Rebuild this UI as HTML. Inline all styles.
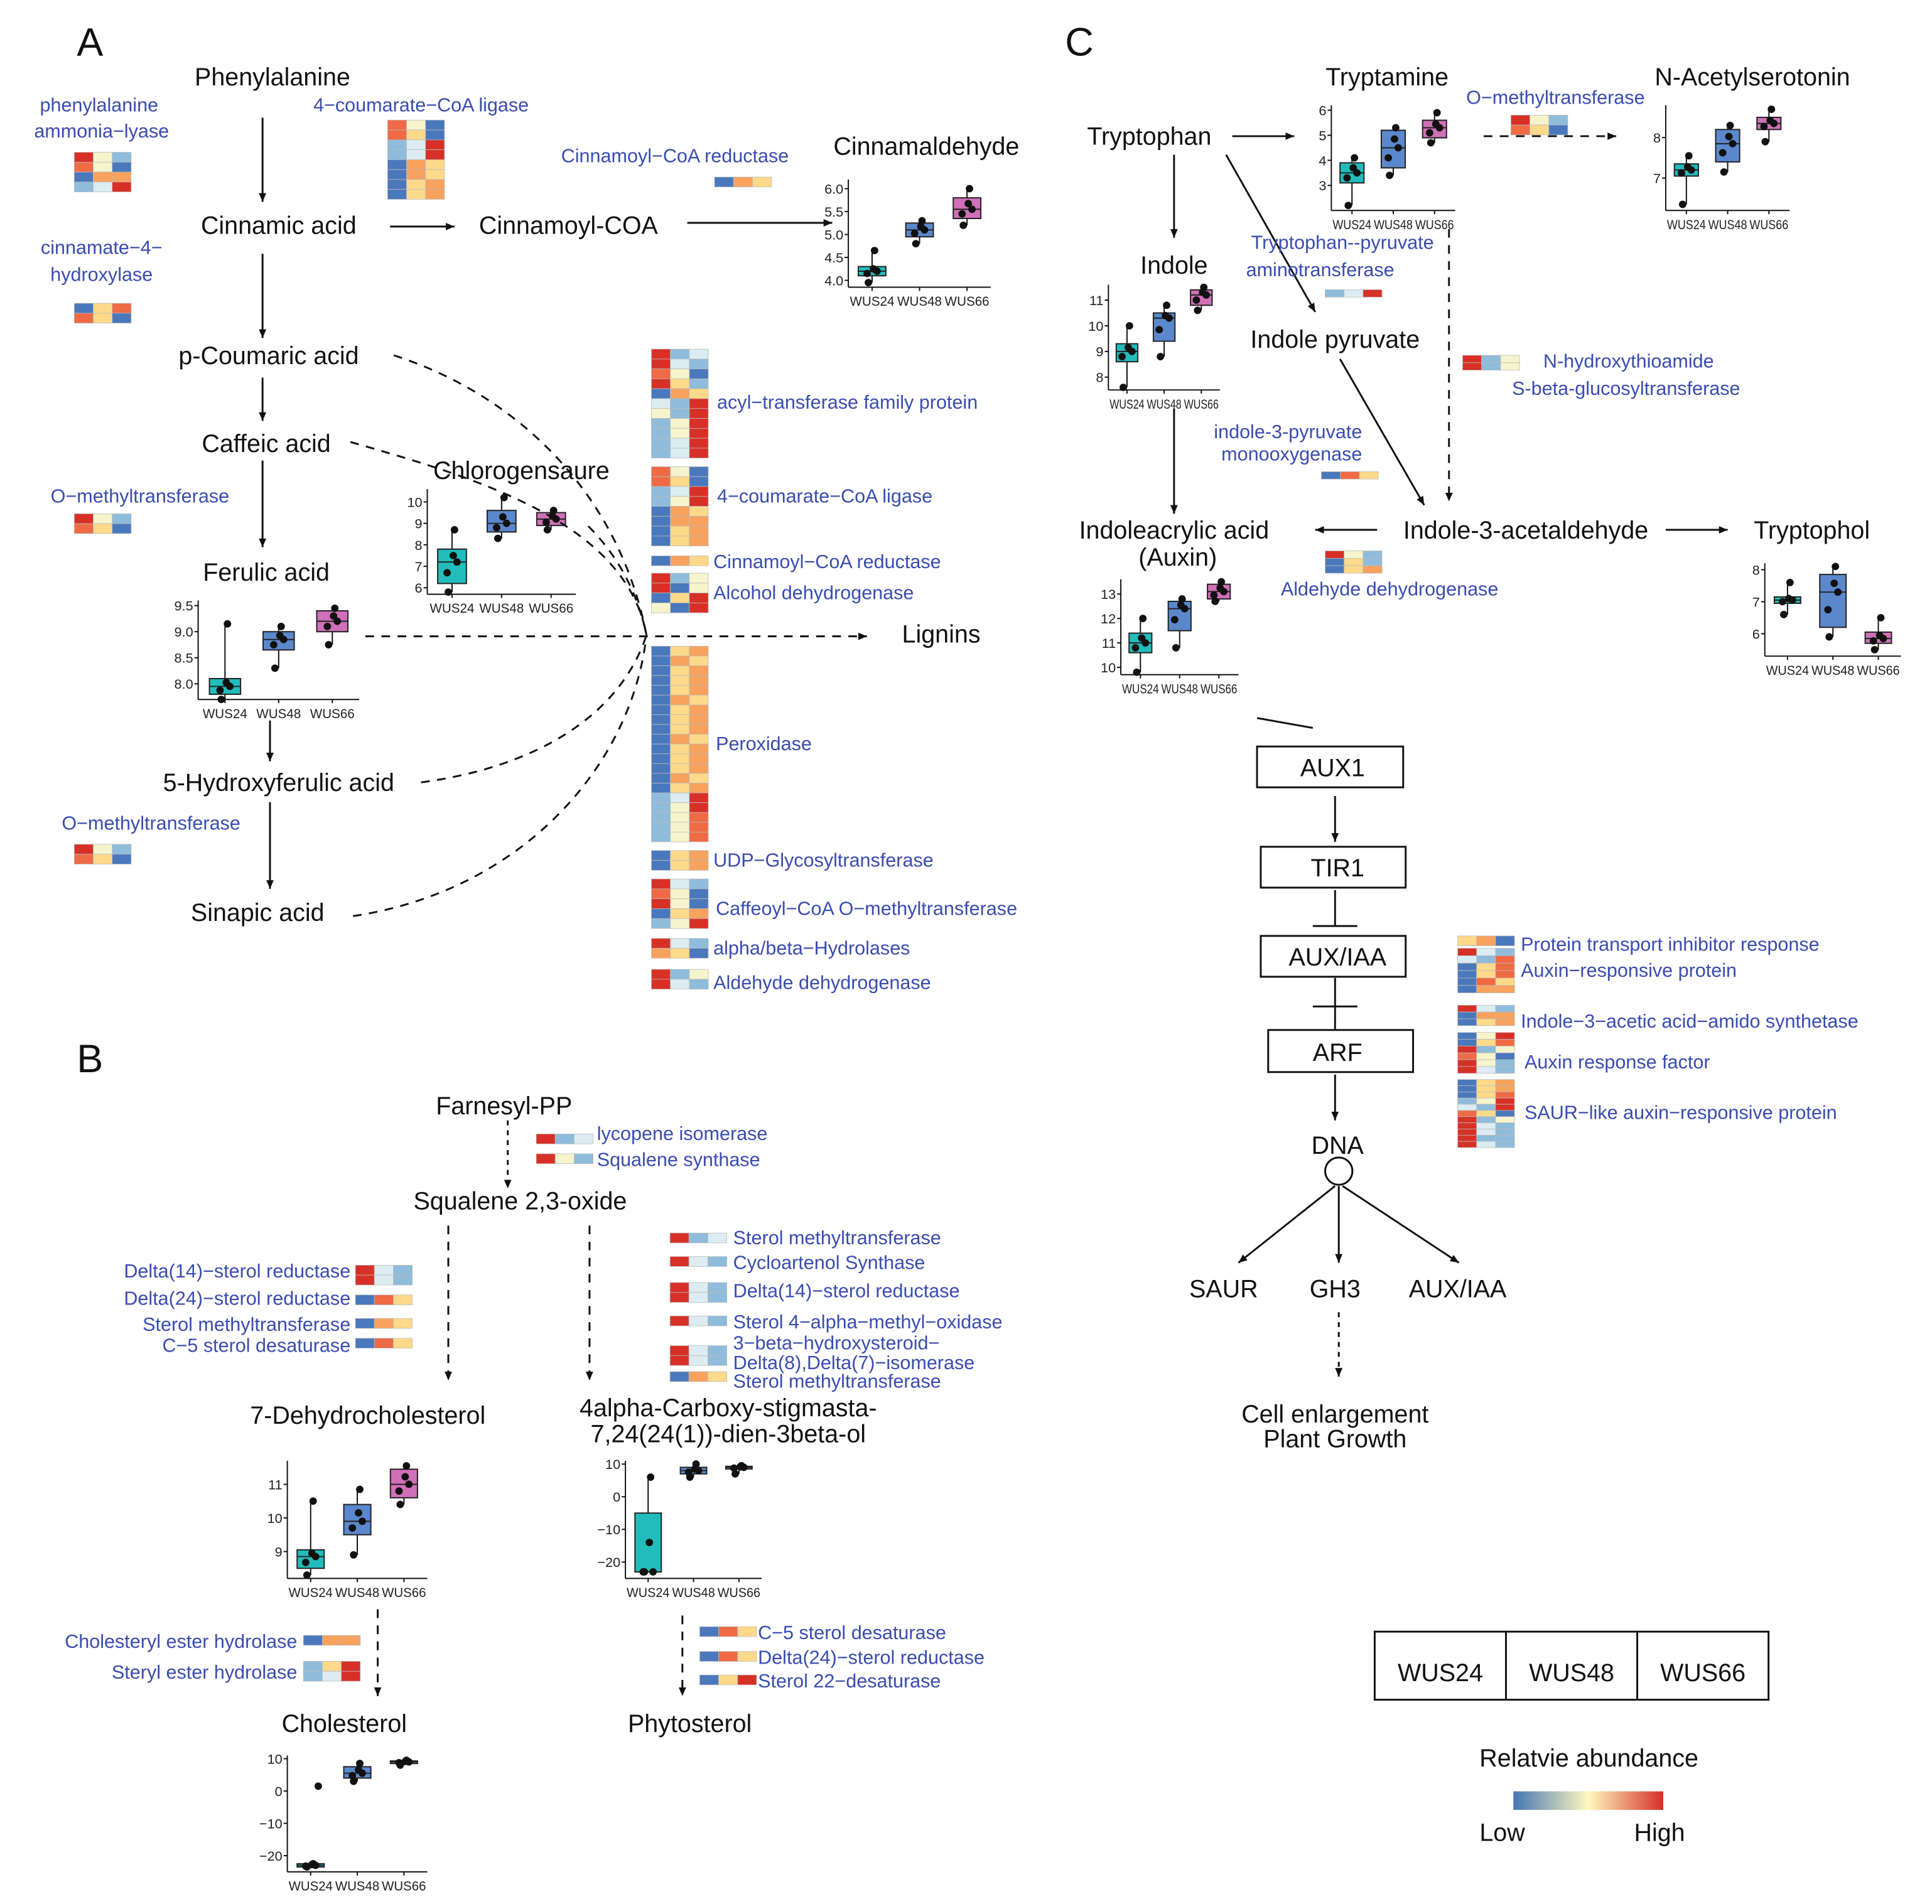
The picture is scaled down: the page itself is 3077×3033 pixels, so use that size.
<!DOCTYPE html>
<html><head><meta charset="utf-8"><style>
html,body{margin:0;padding:0;background:#fff}
svg{display:block}
text{font-family:"Liberation Sans",sans-serif}
.m{font-size:20px;fill:#111}
.e{font-size:15.5px;fill:#3a4cb0}
.big{font-size:32px;fill:#111}
</style></head><body>
<svg id="s" xmlns="http://www.w3.org/2000/svg" width="3077" height="3033" viewBox="0 0 1560 1538" preserveAspectRatio="none">
<defs>
<marker id="ar" markerWidth="8" markerHeight="8" refX="7" refY="4" orient="auto" markerUnits="userSpaceOnUse"><path d="M0,1 L7,4 L0,7 z" fill="#111"/></marker>
<linearGradient id="grad" x1="0" x2="1"><stop offset="0" stop-color="#4575b4"/><stop offset="0.5" stop-color="#fff8c0"/><stop offset="1" stop-color="#d73027"/></linearGradient>
</defs>
<g id="hm"></g><g id="bp"></g>
<g stroke="#111" stroke-width="1.5" fill="none">
<line x1="212" y1="95" x2="212" y2="163" marker-end="url(#ar)"/>
<line x1="315" y1="183" x2="367" y2="183" marker-end="url(#ar)"/>
<line x1="555" y1="180" x2="672" y2="180" marker-end="url(#ar)"/>
<line x1="212" y1="205" x2="212" y2="273" marker-end="url(#ar)"/>
<line x1="212" y1="305" x2="212" y2="340" marker-end="url(#ar)"/>
<line x1="212" y1="372" x2="212" y2="442" marker-end="url(#ar)"/>
<line x1="218" y1="582" x2="218" y2="615" marker-end="url(#ar)"/>
<line x1="218" y1="648" x2="218" y2="718" marker-end="url(#ar)"/>
<g stroke-dasharray="7,6">
<path d="M318,287 C420,320 500,400 522,513"/>
<path d="M283,357 C380,385 505,420 522,513"/>
<path d="M475,425 C500,450 515,480 522,513"/>
<line x1="295" y1="514" x2="700" y2="514" marker-end="url(#ar)"/>
<path d="M340,632 C430,620 500,580 522,513"/>
<path d="M285,740 C420,720 510,620 522,513"/>
<line x1="410" y1="905" x2="410" y2="960" stroke-dasharray="4,4" marker-end="url(#ar)"/>
<line x1="362" y1="990" x2="362" y2="1115" marker-end="url(#ar)"/>
<line x1="476" y1="990" x2="476" y2="1115" marker-end="url(#ar)"/>
<line x1="305" y1="1300" x2="305" y2="1370" marker-end="url(#ar)"/>
<line x1="551" y1="1305" x2="551" y2="1370" marker-end="url(#ar)"/>
<line x1="1198" y1="110" x2="1305" y2="110" marker-end="url(#ar)"/>
<line x1="1170" y1="185" x2="1170" y2="405" marker-end="url(#ar)"/>
<line x1="1081" y1="1060" x2="1081" y2="1112" stroke-dasharray="4,4" marker-end="url(#ar)"/>
</g>
<line x1="995" y1="110" x2="1045" y2="110" marker-end="url(#ar)"/>
<line x1="948" y1="125" x2="948" y2="192" marker-end="url(#ar)"/>
<line x1="990" y1="125" x2="1062" y2="252" marker-end="url(#ar)"/>
<line x1="1082" y1="290" x2="1150" y2="408" marker-end="url(#ar)"/>
<line x1="948" y1="330" x2="948" y2="415" marker-end="url(#ar)"/>
<line x1="1112" y1="428" x2="1062" y2="428" marker-end="url(#ar)"/>
<line x1="1345" y1="428" x2="1395" y2="428" marker-end="url(#ar)"/>
<line x1="1015" y1="580" x2="1060" y2="588"/>
<rect x="1015" y="603" width="118" height="33"/>
<rect x="1018" y="684" width="117" height="33"/>
<rect x="1018" y="756" width="117" height="33"/>
<rect x="1024" y="832" width="117" height="34"/>
<line x1="1078" y1="643" x2="1078" y2="680" marker-end="url(#ar)"/>
<line x1="1078" y1="719" x2="1078" y2="748"/><line x1="1060" y1="748" x2="1096" y2="748"/>
<line x1="1078" y1="790" x2="1078" y2="832"/><line x1="1060" y1="813" x2="1096" y2="813"/>
<line x1="1078" y1="868" x2="1078" y2="905" marker-end="url(#ar)"/>
<circle cx="1081" cy="946" r="11"/>
<line x1="1078" y1="958" x2="1000" y2="1020" marker-end="url(#ar)"/>
<line x1="1081" y1="958" x2="1081" y2="1020" marker-end="url(#ar)"/>
<line x1="1084" y1="958" x2="1178" y2="1020" marker-end="url(#ar)"/>
<rect x="1110" y="1318" width="318" height="55"/>
<line x1="1216" y1="1318" x2="1216" y2="1373"/><line x1="1322" y1="1318" x2="1322" y2="1373"/>
</g>
<rect x="1222" y="1447" width="121" height="15" fill="url(#grad)"/>

<text class="big" x="62" y="45">A</text>
<text class="big" x="62" y="866">B</text>
<text class="big" x="860" y="45">C</text>
<g text-anchor="middle">
<text class="m" x="220" y="69">Phenylalanine</text>
<text class="m" x="225" y="189">Cinnamic acid</text>
<text class="m" x="459" y="189">Cinnamoyl-COA</text>
<text class="m" x="748" y="125">Cinnamaldehyde</text>
<text class="m" x="217" y="294">p-Coumaric acid</text>
<text class="m" x="215" y="365">Caffeic acid</text>
<text class="m" x="421" y="387">Chlorogensaure</text>
<text class="m" x="215" y="469">Ferulic acid</text>
<text class="m" x="760" y="519">Lignins</text>
<text class="m" x="225" y="639">5-Hydroxyferulic acid</text>
<text class="m" x="208" y="744">Sinapic acid</text>
<text class="m" x="407" y="900">Farnesyl-PP</text>
<text class="m" x="420" y="977">Squalene 2,3-oxide</text>
<text class="m" x="297" y="1150">7-Dehydrocholesterol</text>
<text class="m" x="588" y="1144">4alpha-Carboxy-stigmasta-</text>
<text class="m" x="588" y="1165">7,24(24(1))-dien-3beta-ol</text>
<text class="m" x="278" y="1399">Cholesterol</text>
<text class="m" x="557" y="1399">Phytosterol</text>
<text class="m" x="928" y="117">Tryptophan</text>
<text class="m" x="1120" y="69">Tryptamine</text>
<text class="m" x="1415" y="69">N-Acetylserotonin</text>
<text class="m" x="948" y="221">Indole</text>
<text class="m" x="1078" y="281">Indole pyruvate</text>
<text class="m" x="948" y="435">Indoleacrylic acid</text>
<text class="m" x="951" y="457">(Auxin)</text>
<text class="m" x="1232" y="435">Indole-3-acetaldehyde</text>
<text class="m" x="1463" y="435">Tryptophol</text>
<text class="m" x="1076" y="627">AUX1</text>
<text class="m" x="1080" y="708">TIR1</text>
<text class="m" x="1080" y="780">AUX/IAA</text>
<text class="m" x="1080" y="857">ARF</text>
<text class="m" x="1080" y="932">DNA</text>
<text class="m" x="988" y="1048">SAUR</text>
<text class="m" x="1078" y="1048">GH3</text>
<text class="m" x="1177" y="1048">AUX/IAA</text>
<text class="m" x="1078" y="1149">Cell enlargement</text>
<text class="m" x="1078" y="1169">Plant Growth</text>
<text class="m" x="1163" y="1358">WUS24</text>
<text class="m" x="1269" y="1358">WUS48</text>
<text class="m" x="1375" y="1358">WUS66</text>
<text class="m" x="1283" y="1427">Relatvie abundance</text>
<text class="m" x="1213" y="1487">Low</text>
<text class="m" x="1340" y="1487">High</text>
</g>
<g>
<text class="e" x="80" y="90" text-anchor="middle">phenylalanine</text>
<text class="e" x="82" y="111" text-anchor="middle">ammonia−lyase</text>
<text class="e" x="340" y="90" text-anchor="middle">4−coumarate−CoA ligase</text>
<text class="e" x="545" y="131" text-anchor="middle">Cinnamoyl−CoA reductase</text>
<text class="e" x="82" y="205" text-anchor="middle">cinnamate−4−</text>
<text class="e" x="82" y="227" text-anchor="middle">hydroxylase</text>
<text class="e" x="113" y="406" text-anchor="middle">O−methyltransferase</text>
<text class="e" x="122" y="670" text-anchor="middle">O−methyltransferase</text>
<text class="e" x="579" y="330">acyl−transferase family protein</text>
<text class="e" x="579" y="406">4−coumarate−CoA ligase</text>
<text class="e" x="576" y="459">Cinnamoyl−CoA reductase</text>
<text class="e" x="576" y="484">Alcohol dehydrogenase</text>
<text class="e" x="578" y="606">Peroxidase</text>
<text class="e" x="576" y="700">UDP−Glycosyltransferase</text>
<text class="e" x="578" y="739">Caffeoyl−CoA O−methyltransferase</text>
<text class="e" x="576" y="771">alpha/beta−Hydrolases</text>
<text class="e" x="576" y="799">Aldehyde dehydrogenase</text>
<text class="e" x="482" y="921">lycopene isomerase</text>
<text class="e" x="482" y="942">Squalene synthase</text>
<g text-anchor="end">
<text class="e" x="283" y="1032">Delta(14)−sterol reductase</text>
<text class="e" x="283" y="1054">Delta(24)−sterol reductase</text>
<text class="e" x="283" y="1075">Sterol methyltransferase</text>
<text class="e" x="283" y="1092">C−5 sterol desaturase</text>
<text class="e" x="240" y="1331">Cholesteryl ester hydrolase</text>
<text class="e" x="240" y="1356">Steryl ester hydrolase</text>
</g>
<text class="e" x="592" y="1005">Sterol methyltransferase</text>
<text class="e" x="592" y="1025">Cycloartenol Synthase</text>
<text class="e" x="592" y="1048">Delta(14)−sterol reductase</text>
<text class="e" x="592" y="1073">Sterol 4−alpha−methyl−oxidase</text>
<text class="e" x="592" y="1090">3−beta−hydroxysteroid−</text>
<text class="e" x="592" y="1106">Delta(8),Delta(7)−isomerase</text>
<text class="e" x="592" y="1121">Sterol methyltransferase</text>
<text class="e" x="612" y="1324">C−5 sterol desaturase</text>
<text class="e" x="612" y="1344">Delta(24)−sterol reductase</text>
<text class="e" x="612" y="1363">Sterol 22−desaturase</text>
<text class="e" x="1256" y="84" text-anchor="middle">O−methyltransferase</text>
<text class="e" x="1084" y="201" text-anchor="middle">Tryptophan--pyruvate</text>
<text class="e" x="1066" y="223" text-anchor="middle">aminotransferase</text>
<text class="e" x="1315" y="297" text-anchor="middle">N-hydroxythioamide</text>
<text class="e" x="1313" y="319" text-anchor="middle">S-beta-glucosyltransferase</text>
<text class="e" x="1040" y="354" text-anchor="middle">indole-3-pyruvate</text>
<text class="e" x="1043" y="372" text-anchor="middle">monooxygenase</text>
<text class="e" x="1122" y="481" text-anchor="middle">Aldehyde dehydrogenase</text>
<text class="e" x="1228" y="768">Protein transport inhibitor response</text>
<text class="e" x="1228" y="789">Auxin−responsive protein</text>
<text class="e" x="1228" y="830">Indole−3−acetic acid−amido synthetase</text>
<text class="e" x="1231" y="863">Auxin response factor</text>
<text class="e" x="1231" y="904">SAUR−like auxin−responsive protein</text>
</g>
</svg>
<script>
var C={R:"#d73027",r:"#ef6a45",o:"#f8a25e",y:"#fdd98a",w:"#f6f4cc",L:"#dcecf2",l:"#8fbcdb",b:"#4a78bc"};
var NS="http://www.w3.org/2000/svg";
function el(t,a,p){var e=document.createElementNS(NS,t);for(var k in a)e.setAttribute(k,a[k]);p.appendChild(e);return e;}
var H=document.getElementById("hm");
function hm(x,y,rows,rh){rh=rh||8;rows.split(",").forEach(function(r,i){for(var j=0;j<3;j++)el("rect",{x:x+j*15.3,y:y+i*rh,width:15.3,height:rh,fill:C[r[j]]||"#ccc",stroke:"#bbb","stroke-width":0.4},H);});}
hm(60,123,"Rwl,rwb,boo,lLR");
hm(313,97,"rwb,ryb,lLR,lLR,boy,boy,byo,byo");
hm(577,143,"boy");
hm(60,245,"byr,ryb");
hm(60,415,"Rwl,ryb");
hm(60,682,"Rwl,ryb");
hm(526,282,"RlL,RLl,rwb,Ryl,boy,LlR,wlR,lwR,lwR,lLR,lLR");
hm(526,377,"rwb,ryb,lLR,lwR,boy,boo,byo,byo");
hm(526,449,"boy");
hm(526,463,"Rlw,Rbw,byR,wbR");
var per=[];for(var i=0;i<15;i++)per.push(i%4==1?"boy":"byo");per.push("lLR","lwR","lwr","lwr","lwr");hm(526,522,per.join(","),7.9);
hm(526,687,"byo,byo");
hm(526,710,"RLl,rwb,Rwb,byo,lwR");
hm(526,758,"RLl,oyb");
hm(526,783,"Rlw,RLl");
hm(433,916,"RlL");hm(433,932,"Rwl");
hm(287,1022,"RLl,RLl");hm(287,1046,"bry");hm(287,1065,"boy");hm(287,1081,"bry");
hm(541,996,"RlL");hm(541,1015,"RLl");hm(541,1036,"RLl,RLl");hm(541,1063,"RLl");hm(541,1087,"RLl,RLl");hm(541,1108,"boy");
hm(245,1321,"boo");hm(245,1342,"lyR,lLR");
hm(565,1314,"bry");hm(565,1334,"bry");hm(565,1353,"byR");
hm(1220,93,"Rwl,ryb");
hm(1070,234,"lLR",6);
hm(1181,287,"Rlw,Rlw",6);
hm(1067,381,"bry",6);
hm(1070,445,"Rwl,byl,byo",6);
hm(1177,756,"yob");
hm(1177,766,"RLl,Llr,byr,byr,bry,boo",6);
hm(1177,812,"RLl,boo,byo",5.5);
hm(1177,834,"bwR,byr,Rlw,rwb,Rwl,RLl",5.5);
hm(1177,872,"byo,byo,byr,lwR,LlR,ryb,Rlw,RLl,RLl,Rll,RLl",5);

var B=document.getElementById("bp");
var cols=["#22bcbc","#5b88cc","#d070b8"];
function bp(x0,y0,w,h,mn,mx,ticks,labs,g){
 var sy=function(v){return y0+h-(v-mn)/(mx-mn)*h;};
 el("line",{x1:x0,y1:y0,x2:x0,y2:y0+h,stroke:"#111","stroke-width":1},B);
 el("line",{x1:x0,y1:y0+h,x2:x0+w,y2:y0+h,stroke:"#111","stroke-width":1},B);
 ticks.forEach(function(t,i){var y=sy(t);el("line",{x1:x0-3,y1:y,x2:x0,y2:y,stroke:"#111"},B);var tx=el("text",{x:x0-4,y:y+4,"text-anchor":"end","font-size":11,fill:"#222"},B);tx.textContent=labs[i];});
 var names=["WUS24","WUS48","WUS66"];
 g.forEach(function(d,i){var cx=x0+(i+0.5)*w/3,bw=w/3*0.58;
  el("line",{x1:cx,y1:sy(d[4]),x2:cx,y2:sy(d[3]),stroke:"#111"},B);
  el("rect",{x:cx-bw/2,y:sy(d[2]),width:bw,height:Math.max(2,sy(d[0])-sy(d[2])),fill:cols[i],stroke:"#222","stroke-width":1},B);
  el("line",{x1:cx-bw/2,y1:sy(d[1]),x2:cx+bw/2,y2:sy(d[1]),stroke:"#222"},B);
  var pts=[d[3],d[4],d[1],(d[0]+d[1])/2,(d[1]+d[2])/2];pts.forEach(function(p,k){el("circle",{cx:cx+[-3,2,4,-4,1][k],cy:sy(p),r:3,fill:"#111"},B);});
  el("line",{x1:cx,y1:y0+h,x2:cx,y2:y0+h+3,stroke:"#111"},B);
  var t=el("text",{x:cx,y:y0+h+15,"text-anchor":"middle","font-size":11,"textLength":Math.min(36,w/3-2),"lengthAdjust":"spacingAndGlyphs",fill:"#222"},B);t.textContent=names[i];});
}
bp(685,145,115,87,3.85,6.2,[4,4.5,5,5.5,6],["4.0","4.5","5.0","5.5","6.0"],[[4.1,4.2,4.3,3.95,4.65],[4.95,5.1,5.25,4.8,5.3],[5.35,5.55,5.8,5.2,6.0]]);
bp(345,395,120,85,5.7,10.6,[6,7,8,9,10],["6","7","8","9","10"],[[6.2,7.2,7.8,5.8,8.7],[8.6,9,9.6,8.3,10.2],[8.9,9.2,9.5,8.7,9.6]]);
bp(160,485,130,80,7.7,9.6,[8,8.5,9,9.5],["8.0","8.5","9.0","9.5"],[[7.8,7.95,8.1,7.7,9.15],[8.65,8.85,9,8.3,9.1],[9,9.2,9.4,8.75,9.45]]);
bp(232,1180,113,95,8.2,11.7,[9,10,11],["9","10","11"],[[8.5,8.85,9.05,8.3,10.5],[9.5,9.9,10.4,8.9,10.85],[10.6,11,11.45,10.4,11.55]]);
bp(505,1180,110,95,-25,11,[-20,-10,0,10],["−20","−10","0","10"],[[-23,-23,-5,-23,6],[7,8,9,6,10],[8.5,9,9.3,7,9.5]]);
bp(232,1418,113,94,-25,11,[-20,-10,0,10],["−20","−10","0","10"],[[-23.5,-23,-22.5,-23.5,-22.5],[4,5.5,7.5,3,8.5],[8.5,9,9.3,8,9.5]]);
el("circle",{cx:257,cy:1418+94-(1.5+25)/36*94,r:3,fill:"#111"},B);
bp(1075,85,100,85,2,6.2,[3,4,5,6],["3","4","5","6"],[[3.1,3.5,3.9,2.2,4.1],[3.7,4.5,5.2,3.4,5.3],[4.9,5.3,5.6,4.7,5.9]]);
bp(1345,85,100,85,6.2,8.8,[7,8],["7","8"],[[7.05,7.2,7.35,6.35,7.55],[7.4,7.85,8.2,7.15,8.3],[8.2,8.35,8.5,7.9,8.7]]);
bp(895,230,90,85,7.5,11.6,[8,9,10,11],["8","9","10","11"],[[8.6,9,9.3,7.6,10],[9.4,10.3,10.5,8.8,10.8],[10.8,11.2,11.4,10.6,11.5]]);
bp(905,468,95,77,9.7,13.6,[10,11,12,13],["10","11","12","13"],[[10.6,11,11.4,9.8,12],[11.5,12.4,12.7,10.8,12.8],[12.8,13.1,13.4,12.7,13.5]]);
bp(1425,455,110,75,5.3,8.2,[6,7,8],["6","7","8"],[[6.95,7.05,7.15,6.6,7.6],[6.2,7.3,7.85,5.9,8.1],[5.7,5.85,6.05,5.5,6.5]]);
</script>
</body></html>
